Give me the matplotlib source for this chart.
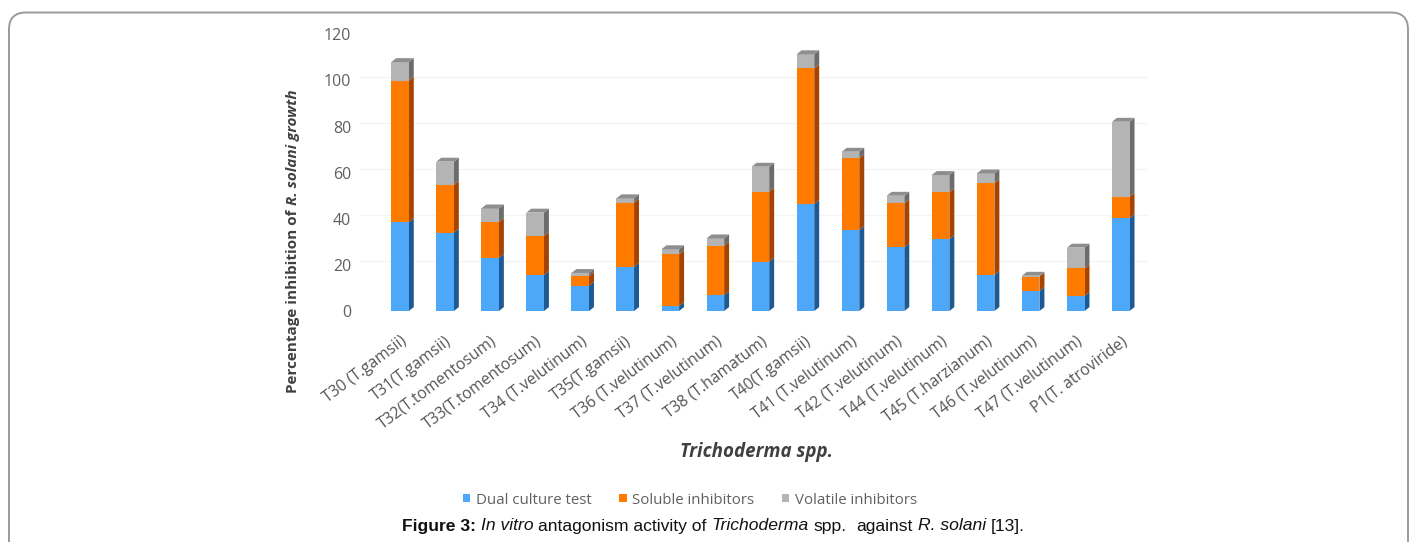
import matplotlib
matplotlib.use("Agg")
import matplotlib.pyplot as plt
from matplotlib.patches import Polygon, FancyBboxPatch
import numpy as np

# Isolates and percentage inhibition of R. solani growth
isolates = ["T30 (T.gamsii)", "T31(T.gamsii)", "T32(T.tomentosum)", "T33(T.tomentosum)",
            "T34 (T.velutinum)", "T35(T.gamsii)", "T36 (T.velutinum)", "T37 (T.velutinum)",
            "T38 (T.hamatum)", "T40(T.gamsii)", "T41 (T.velutinum)", "T42 (T.velutinum)",
            "T44 (T.velutinum)", "T45 (T.harzianum)", "T46 (T.velutinum)", "T47 (T.velutinum)",
            "P1(T. atroviride)"]
dual_culture = [38.5, 34.0, 23.0, 15.6, 11.0, 19.2, 2.2, 6.9, 21.4, 46.4, 35.1, 27.6, 31.1, 15.6, 8.7, 6.5, 40.2]
soluble = [61.5, 20.7, 15.7, 16.9, 4.2, 27.8, 22.4, 21.4, 30.4, 58.9, 31.1, 19.1, 20.4, 39.8, 6.2, 12.0, 9.4]
volatile = [8.0, 10.1, 5.8, 10.2, 1.3, 1.9, 2.2, 3.2, 10.8, 6.1, 2.9, 3.3, 7.5, 4.3, 0.4, 9.0, 32.5]
series_names = ["Dual culture test", "Soluble inhibitors", "Volatile inhibitors"]
y_ticks = [0, 20, 40, 60, 80, 100, 120]

front_colors = ["#4da8fa", "#ff7b00", "#b4b4b4"]
side_colors = ["#1d5a94", "#a64300", "#6c6c6c"]
top_colors = ["#3a86cc", "#d86400", "#8e8e8e"]

W, H = 1414, 542
fig = plt.figure(figsize=(W / 100, H / 100), dpi=100)
fig.patch.set_facecolor("white")

# rounded frame around the figure panel
frame = FancyBboxPatch((9 / W, -0.05), (1408 - 9) / W, (H - 12.5) / H + 0.05,
                       boxstyle="round,pad=0,rounding_size=0.012",
                       transform=fig.transFigure, fill=False,
                       edgecolor="#9a9a9a", linewidth=1.4, mutation_aspect=W / H)
fig.patches.append(frame)

ax = fig.add_axes([359.5 / W, (H - 311) / H, (1147.8 - 359.5) / W, 276.6 / H])
ax.set_xlim(-0.9, 16.6)
ax.set_ylim(0, 120)

x = np.arange(len(isolates))
half = 0.195
dx, dy = 0.11, 1.7

# faint back-wall gridlines
for t in y_ticks[1:]:
    ax.axhline(t + dy, color="#f3f3f3", lw=0.8, zorder=0)

stack = [dual_culture, soluble, volatile]
bottoms = np.zeros(len(x))
for k, vals in enumerate(stack):
    vals = np.asarray(vals, dtype=float)
    ax.bar(x, vals, width=2 * half, bottom=bottoms, color=front_colors[k],
           edgecolor="none", zorder=3, label=series_names[k])
    for i in range(len(x)):
        b, t = bottoms[i], bottoms[i] + vals[i]
        r = x[i] + half
        ax.add_patch(Polygon([(r, b), (r + dx, b + dy), (r + dx, t + dy), (r, t)],
                             closed=True, facecolor=side_colors[k], edgecolor="none", zorder=2))
    bottoms = bottoms + vals

# top faces of the stacked columns
for i in range(len(x)):
    t = bottoms[i]
    ax.add_patch(Polygon([(x[i] - half, t), (x[i] - half + dx, t + dy),
                          (x[i] + half + dx, t + dy), (x[i] + half, t)],
                         closed=True, facecolor=top_colors[2], edgecolor="none", zorder=4))

for s in ax.spines.values():
    s.set_visible(False)

ax.set_yticks(y_ticks)
ax.set_yticklabels([str(v) for v in y_ticks], fontsize=11.5, color="#606060",
                   family="Open Sans")
ax.tick_params(axis="y", length=0, pad=6)

ax.set_xticks(x)
ax.set_xticklabels(isolates, rotation=37, ha="right", rotation_mode="anchor",
                   fontsize=11.3, color="#555555", family="Open Sans")
ax.tick_params(axis="x", length=0, pad=16)
for lbl in ax.get_xticklabels():
    lbl.set_x(lbl.get_position()[0] - 0.05)


def chain_text(pieces, x0, y0, vertical=False, **common):
    """Draw text runs with different styles one after another."""
    first, style, _ = pieces[0]
    if vertical:
        prev = fig.text(x0, y0, first, rotation=90, ha="center", va="bottom",
                        **common, **style)
    else:
        prev = fig.text(x0, y0, first, ha="left", va="center", **common, **style)
    for text, style, gap in pieces[1:]:
        if vertical:
            prev = ax.annotate(text, xy=(0.5, 1), xycoords=prev, xytext=(0, gap),
                               textcoords="offset points", rotation=90,
                               ha="center", va="bottom", annotation_clip=False,
                               **common, **style)
        else:
            prev = ax.annotate(text, xy=(1, 0.5), xycoords=prev, xytext=(gap, 0),
                               textcoords="offset points", ha="left", va="center",
                               annotation_clip=False, **common, **style)
    return prev


bold = {"fontweight": "bold"}
bold_it = {"fontweight": "bold", "style": "italic"}
chain_text([("Percentage inhibition of", bold, 0),
            ("R. solani growth", bold_it, 3.0)],
           293 / W, 1 - 393 / H, vertical=True,
           fontsize=11, color="#404040", family="Open Sans")

fig.text(756 / W, 1 - 452 / H, "Trichoderma spp.", ha="center", va="center",
         fontsize=13.5, fontweight="bold", style="italic", color="#404040",
         family="Open Sans")

handles, labels = ax.get_legend_handles_labels()
leg = fig.legend(handles, labels, loc="center", bbox_to_anchor=(690 / W, 1 - 500 / H),
                 ncol=3, frameon=False, handlelength=0.5,
                 handleheight=0.5, handletextpad=0.4, columnspacing=1.8,
                 prop={"family": "Open Sans", "size": 10.8})
for t in leg.get_texts():
    t.set_color("#606060")

reg = {}
ital = {"style": "italic"}
chain_text([("Figure 3:", bold, 0),
            ("In vitro", ital, 3.5),
            ("antagonism activity of", reg, 3.5),
            ("Trichoderma", ital, 3.5),
            ("spp.", reg, 3.5),
            ("against", reg, 7.0),
            ("R. solani", ital, 3.5),
            ("[13].", reg, 3.5)],
           402 / W, 1 - 526 / H, fontsize=12.6, color="#111111",
           family="Liberation Sans")

fig.savefig("out.png", dpi=100, facecolor="white")
